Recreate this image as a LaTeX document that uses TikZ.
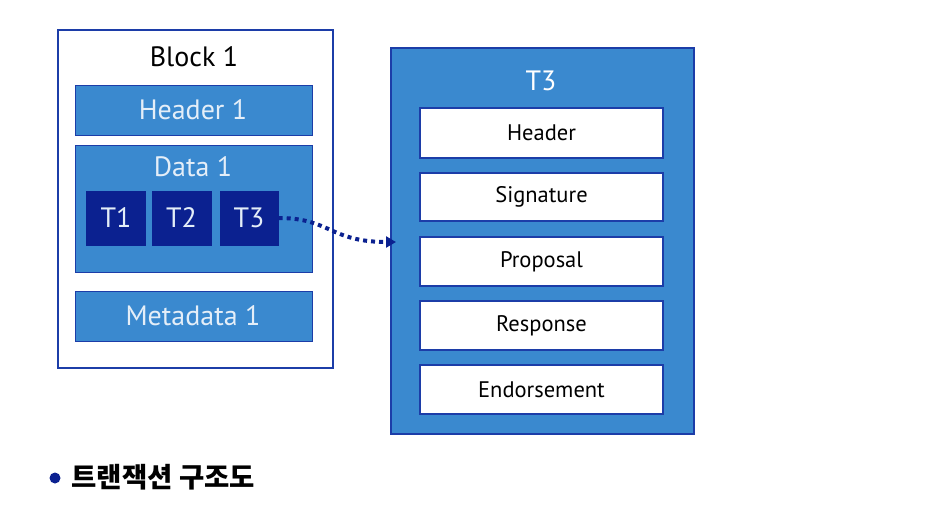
\documentclass[tikz,border=0pt]{standalone}
\usepackage{fontspec}
\setmainfont{PT Sans}
\newfontfamily\krfont{Noto Sans CJK KR}
\usetikzlibrary{arrows.meta}
\definecolor{midblue}{HTML}{3A89CF}
\definecolor{edgeblue}{HTML}{1C3DA8}
\definecolor{navy}{HTML}{0B2190}
\definecolor{lighttext}{HTML}{E4EEF8}
\tikzset{
  outerbox/.style={draw=edgeblue, line width=2.2pt, fill=white},
  bluebox/.style={draw=edgeblue, line width=1pt, fill=midblue},
  navybox/.style={draw=none, fill=navy},
  whitebox/.style={draw=edgeblue, line width=1.2pt, fill=white},
  lbl/.style={text=lighttext, font=\fontsize{28}{30}\selectfont},
  dlbl/.style={text=black, font=\fontsize{22.5}{24}\selectfont},
}
\begin{document}
\begin{tikzpicture}[x=1pt,y=-1pt]
\useasboundingbox (0,0) rectangle (940,520);
\fill[white] (0,0) rectangle (940,520);
% Block 1
\draw[outerbox] (58,30) rectangle (333,368);
\node[font=\fontsize{28}{30}\selectfont] (blk) at (194,57) {Block 1};
\draw[bluebox] (75,85) rectangle (312,135);
\node[lbl] (h1) at (193,110) {Header 1};
\draw[bluebox] (75,145) rectangle (312,272);
\node[lbl] (d1) at (193,167) {Data 1};
\node[navybox, minimum width=60pt, minimum height=55pt, lbl] (t1) at (116,218) {T1};
\node[navybox, minimum width=60pt, minimum height=55pt, lbl] (t2) at (181.5,218) {T2};
\node[navybox, minimum width=59pt, minimum height=55pt, lbl] (t3) at (249,218) {T3};
\draw[bluebox] (75,291) rectangle (312,341);
\node[lbl] (m1) at (193,316) {Metadata 1};
% T3 detail
\node[bluebox, line width=1.5pt, minimum width=303pt, minimum height=386pt, anchor=north west] (big) at (390,47) {};
\node[lbl, text=white] (bt) at (541,81) {T3};
\node[whitebox, minimum width=243pt, minimum height=50pt, dlbl] (hd) at (541.5,133) {Header};
\node[whitebox, minimum width=243pt, minimum height=48pt, dlbl] (sg) at (541.5,197) {Signature};
\node[whitebox, minimum width=243pt, minimum height=49pt, dlbl] (pr) at (541.5,261.5) {Proposal};
\node[whitebox, minimum width=243pt, minimum height=49pt, dlbl] (rs) at (541.5,325.5) {Response};
\node[whitebox, minimum width=243pt, minimum height=49pt, dlbl] (en) at (541.5,389.5) {Endorsement};
% arrow
\coordinate (tip) at (396,242);
\draw[navy, line width=4pt, dash pattern=on 4pt off 4pt, -{Triangle[length=10pt,width=11pt]}]
  (t3.east) .. controls (330,218) and (330,242) .. (tip);
% caption
\fill[navy] (55,478) circle (5.5pt);
\node[anchor=west, font=\krfont\bfseries\fontsize{27.5}{30}\selectfont] (cap) at (68,477) {트랜잭션 구조도};
\end{tikzpicture}
\end{document}
